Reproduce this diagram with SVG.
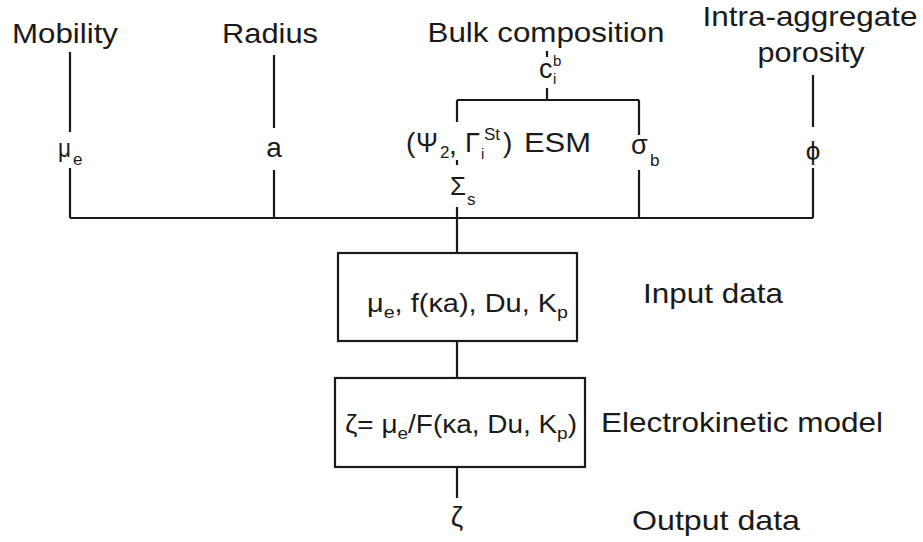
<svg xmlns="http://www.w3.org/2000/svg" width="923" height="542" viewBox="0 0 923 542">
<style>
text{font-family:"Liberation Sans",Arial,sans-serif;fill:#1a1a1a}
.lab{font-size:28px}
.m{font-size:26px}
.bx{font-size:25px}
.s{font-size:17px}
.ln{stroke:#1a1a1a;stroke-width:2.2;fill:none}
.box{stroke:#1a1a1a;stroke-width:2.2;fill:#fff}
</style>
<rect width="923" height="542" fill="#fff"/>
<g id="connectors">
<path class="ln" d="M70,218 H813"/>
<path class="ln" d="M70,52 V132 M70,168 V218"/>
<path class="ln" d="M274,55 V128 M274,170 V218"/>
<path class="ln" d="M813,75 V127 M813,168 V218"/>
<path class="ln" d="M547,51 V57 M547,88 V100 M457,100 H639 M457,100 V122 M639,100 V135 M639,170 V218"/>
<path class="ln" d="M457,160 V165 M457,207 V253"/>
<path class="ln" d="M457,341 V378"/>
<path class="ln" d="M457,467 V498"/>
</g>
<g id="mobility">
<text class="lab" x="65" y="43" text-anchor="middle" textLength="106" lengthAdjust="spacingAndGlyphs">Mobility</text>
<text class="m" x="58" y="157" textLength="13" lengthAdjust="spacingAndGlyphs">μ</text><text class="s" x="73" y="165">e</text>
</g>
<g id="radius">
<text class="lab" x="270" y="43" text-anchor="middle" textLength="96" lengthAdjust="spacingAndGlyphs">Radius</text>
<text class="lab" x="274" y="157" text-anchor="middle">a</text>
</g>
<g id="bulk">
<text class="lab" x="546" y="42" text-anchor="middle" textLength="237" lengthAdjust="spacingAndGlyphs">Bulk composition</text>
<text x="539" y="78" style="font-size:27px">c</text>
<text x="553" y="66" style="font-size:15px">b</text>
<text x="553" y="84" style="font-size:15px">i</text>
</g>
<g id="esm">
<text class="lab" x="406" y="152">(</text>
<text class="lab" x="416" y="152" textLength="22" lengthAdjust="spacingAndGlyphs">Ψ</text>
<text x="440" y="158" class="s">2</text>
<text class="lab" x="449" y="154">,</text>
<text class="lab" x="465" y="152" textLength="15" lengthAdjust="spacingAndGlyphs">Γ</text>
<text x="484" y="140" class="s">St</text>
<text x="481" y="159" style="font-size:15px">i</text>
<text class="lab" x="503" y="152">)</text>
<text class="lab" x="524" y="152" textLength="67" lengthAdjust="spacingAndGlyphs">ESM</text>
<text x="450" y="195" style="font-size:25px" textLength="16" lengthAdjust="spacingAndGlyphs">Σ</text>
<text x="467" y="205" class="s">s</text>
</g>
<g id="sigma">
<text x="631" y="154" style="font-size:27px">σ</text>
<text x="650" y="166" class="s">b</text>
</g>
<g id="porosity">
<text class="lab" x="810" y="26" text-anchor="middle" textLength="215" lengthAdjust="spacingAndGlyphs">Intra-aggregate</text>
<text class="lab" x="811" y="62" text-anchor="middle" textLength="107" lengthAdjust="spacingAndGlyphs">porosity</text>
<text x="813" y="160" text-anchor="middle" style="font-size:26px">ϕ</text>
</g>
<g id="input">
<rect class="box" x="338" y="253" width="239" height="88"/>
<text class="bx" x="367" y="312" textLength="201" lengthAdjust="spacingAndGlyphs">μ<tspan class="s" dy="6">e</tspan><tspan dy="-6">, f(κa), Du, K</tspan><tspan class="s" dy="6">p</tspan></text>
<text class="lab" x="643" y="303" textLength="140" lengthAdjust="spacingAndGlyphs">Input data</text>
</g>
<g id="model">
<rect class="box" x="335" y="378" width="250" height="89"/>
<text class="bx" x="345" y="433" textLength="232" lengthAdjust="spacingAndGlyphs">ζ= μ<tspan class="s" dy="6">e</tspan><tspan dy="-6">/F(κa, Du, K</tspan><tspan class="s" dy="6">p</tspan><tspan dy="-6">)</tspan></text>
<text class="lab" x="601" y="432" textLength="282" lengthAdjust="spacingAndGlyphs">Electrokinetic model</text>
</g>
<g id="output">
<text x="457" y="526" text-anchor="middle" style="font-size:28px">ζ</text>
<text class="lab" x="632" y="530" textLength="168" lengthAdjust="spacingAndGlyphs">Output data</text>
</g>
</svg>
